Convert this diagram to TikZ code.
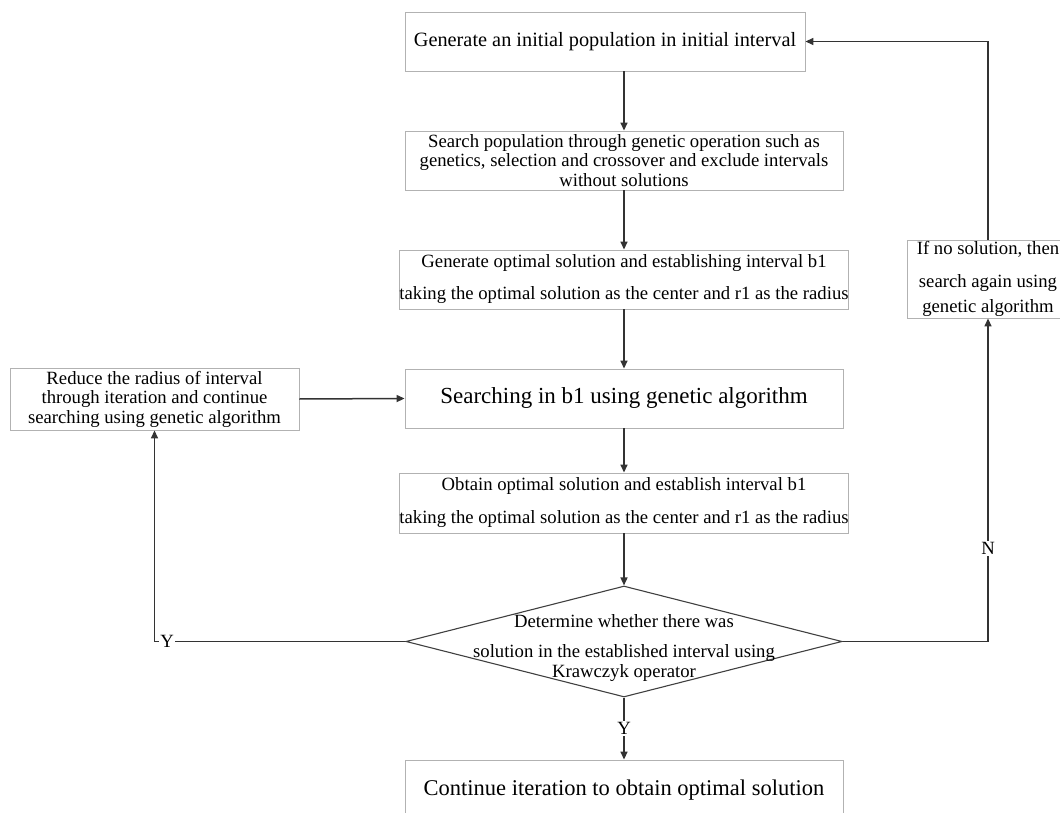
\documentclass[tikz,border=0pt]{standalone}
\usepackage{fontspec}
\setmainfont{Liberation Serif}
\usetikzlibrary{shapes.geometric,arrows.meta}

\begin{document}
\begin{tikzpicture}[x=1pt,y=-1pt,
    every node/.style={font=\fontsize{18.7}{19.5}\selectfont},
    box/.style={draw=black!30, line width=0.9pt, inner sep=0pt, align=center, minimum height=59pt},
    decision/.style={diamond, draw=black!75, line width=1.1pt, inner sep=0pt, minimum width=436pt, minimum height=111pt},
    arr/.style={draw=black!80, line width=1.5pt, -{Triangle[length=8pt,width=7pt]}},
    lbl/.style={fill=white, inner sep=1pt}]
\useasboundingbox (0,0) rectangle (1060,813);
%Start with the main column of boxes, top to bottom,
% then the decision diamond and the two side boxes.
% Each loop back is drawn with |- or -| from node to node.
\node[box, minimum width=400pt, font=\fontsize{20.3}{22}\selectfont] (a) at (605,41.5)
    {Generate an initial population in initial interval};
\node[box, minimum width=438pt] (b) at (624,160.5)
    {Search population through genetic operation such as\\
     genetics, selection and crossover and exclude intervals\\
     without solutions};
\node[box, minimum width=438pt] (c) at (624,279.5)
    {Generate optimal solution and establishing interval b1\\[12.5pt]
     taking the optimal solution as the center and r1 as the radius};
\node[box, minimum width=438pt, font=\fontsize{23}{25}\selectfont] (d) at (624,398.5)
    {Searching in b1 using genetic algorithm};
\node[box, minimum width=289pt, minimum height=62pt] (e) at (154.5,399)
    {Reduce the radius of interval\\
     through iteration and continue\\
     searching using genetic algorithm};
\node[box, minimum width=438pt, minimum height=60pt] (f) at (624,503)
    {Obtain optimal solution and establish interval b1\\[13.5pt]
     taking the optimal solution as the center and r1 as the radius};
% the diamond is drawn empty, its text sits on top of it
\node[decision] (g) at (624,641.5) {};
\node[align=center, inner sep=0pt] (gt) at (624,648)
    {Determine whether there was\\[10.5pt]
     solution in the established interval using\\
     Krawczyk operator};
\node[box, minimum width=438pt, minimum height=60pt, font=\fontsize{22.5}{24}\selectfont] (h) at (624,790)
    {Continue iteration to obtain optimal solution};
\node[box, minimum width=162pt, minimum height=78pt] (k) at (988,279)
    {If no solution, then\\[13.5pt]
     search again using\\[5.5pt]
     genetic algorithm};

\draw[arr] (a.south -| b.north) -- (b.north);
\draw[arr] (b.south) -- (c.north);
\draw[arr] (c.south) -- (d.north);
\draw[arr] (e.east) -- (d.west);
\draw[arr] (d.south) -- (f.north);
\draw[arr] (f.south) -- (g.north);
\draw[arr] (g.south) -- node[lbl]{Y} (h.north);
\draw[arr] (g.west) -- node[lbl, pos=0.95]{Y} (g.west -| e.south) -- (e.south);
\draw[arr] (g.east) -| node[lbl, pos=0.644]{N} (k.south);
\draw[arr] (k.north) |- (a.east);
\end{tikzpicture}
\end{document}
